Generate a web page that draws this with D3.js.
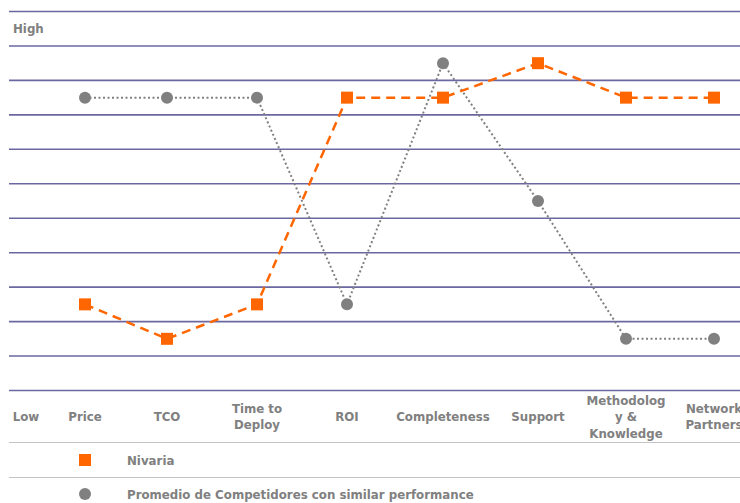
<!DOCTYPE html>
<html lang="en">
<head>
    <meta charset="UTF-8">
    <script src="https://d3js.org/d3.v7.min.js"></script>
    <title>Nivaria vs competidores</title>
    <style>
        body { margin: 0; background: #fff; }
        text { font-family: "DejaVu Sans", Verdana, sans-serif; font-weight: bold; fill: #808080; }
    </style>
</head>
<body>
    <div id="chart"></div>
    <script>
        // data
        var categories = ["Price", "TCO", "Time to Deploy", "ROI", "Completeness", "Support", "Methodology & Knowledge", "Network Partners"];
        var categoryLines = [["Price"], ["TCO"], ["Time to", "Deploy"], ["ROI"], ["Completeness"], ["Support"], ["Methodolog", "y &", "Knowledge"], ["Network", "Partners"]];
        var nivaria = [2, 1, 2, 8, 8, 9, 8, 8];
        var competidores = [8, 8, 8, 2, 9, 5, 1, 1];
        var seriesNames = ["Nivaria", "Promedio de Competidores con similar performance"];
        var highLabel = "High", lowLabel = "Low";

        var width = 740, height = 503;
        var fontSize = 11.8;

        // table-like column widths (first one holds the Low label)
        var colWidths = [34, 84, 80, 100, 80, 112, 78, 98, 78];
        var left = 9;
        var edges = [left];
        colWidths.forEach(w => edges.push(edges[edges.length - 1] + w));
        var centers = colWidths.map((w, i) => edges[i] + w / 2);

        var x = d3.scaleOrdinal()
            .domain(["__low"].concat(categories))
            .range(centers);

        var y = d3.scaleLinear()
            .domain([-0.5, 10.5])
            .range([390.5, 11.5]);

        var svg = d3.select('#chart')
            .append('svg')
            .attr('width', width)
            .attr('height', height);

        // grid lines
        svg.selectAll(".grid")
            .data(d3.range(-0.5, 11, 1))
            .enter()
            .append("line")
            .attr("x1", left)
            .attr("x2", width)
            .attr("y1", d => y(d))
            .attr("y2", d => y(d))
            .attr("stroke", "#6b68a1")
            .attr("stroke-width", 1.6);

        // legend separators
        svg.selectAll(".sep")
            .data([442.5, 477.5])
            .enter()
            .append("line")
            .attr("x1", left)
            .attr("x2", width)
            .attr("y1", d => d)
            .attr("y2", d => d)
            .attr("stroke", "#c4c4c4")
            .attr("stroke-width", 1.2);

        svg.append("text")
            .attr("x", 13)
            .attr("y", y(10))
            .attr("dy", "0.35em")
            .attr("font-size", fontSize)
            .text(highLabel);

        var labelY = 417;
        svg.append("text")
            .attr("x", x("__low"))
            .attr("y", labelY)
            .attr("dy", "0.35em")
            .attr("text-anchor", "middle")
            .attr("font-size", fontSize)
            .text(lowLabel);

        var catText = svg.selectAll(".cat")
            .data(categories)
            .enter()
            .append("text")
            .attr("text-anchor", "middle")
            .attr("font-size", fontSize)
            .attr("x", d => x(d))
            .attr("y", labelY);

        catText.each(function (d, i) {
            var lines = categoryLines[i];
            var lh = 16.5;
            var start = -(lines.length - 1) * lh / 2;
            d3.select(this).selectAll("tspan")
                .data(lines)
                .enter()
                .append("tspan")
                .attr("x", x(d))
                .attr("y", (l, j) => labelY + start + j * lh)
                .attr("dy", "0.35em")
                .text(l => l);
        });

        var line = d3.line()
            .x((d, i) => x(categories[i]))
            .y(d => y(d));

        // competitors (grey dotted)
        svg.append("path")
            .datum(competidores)
            .attr("d", line)
            .attr("fill", "none")
            .attr("stroke", "#808080")
            .attr("stroke-width", 2)
            .attr("stroke-dasharray", "2,2.5");

        svg.selectAll(".comp")
            .data(competidores)
            .enter()
            .append("circle")
            .attr("cx", (d, i) => x(categories[i]))
            .attr("cy", d => y(d))
            .attr("r", 6)
            .attr("fill", "#808080");

        // Nivaria (orange dashed)
        svg.append("path")
            .datum(nivaria)
            .attr("d", line)
            .attr("fill", "none")
            .attr("stroke", "#ff6600")
            .attr("stroke-width", 2.5)
            .attr("stroke-dasharray", "9,6");

        svg.selectAll(".niv")
            .data(nivaria)
            .enter()
            .append("rect")
            .attr("x", (d, i) => x(categories[i]) - 6)
            .attr("y", d => y(d) - 6)
            .attr("width", 12)
            .attr("height", 12)
            .attr("fill", "#ff6600");

        // legend
        var legendX = x(categories[0]);
        svg.append("rect")
            .attr("x", legendX - 6)
            .attr("y", 460 - 6)
            .attr("width", 12)
            .attr("height", 12)
            .attr("fill", "#ff6600");
        svg.append("circle")
            .attr("cx", legendX)
            .attr("cy", 494)
            .attr("r", 6)
            .attr("fill", "#808080");

        svg.selectAll(".leg")
            .data(seriesNames)
            .enter()
            .append("text")
            .attr("x", 127)
            .attr("y", (d, i) => i === 0 ? 460.5 : 494.5)
            .attr("dy", "0.35em")
            .attr("font-size", fontSize)
            .text(d => d);
    </script>
</body>
</html>
